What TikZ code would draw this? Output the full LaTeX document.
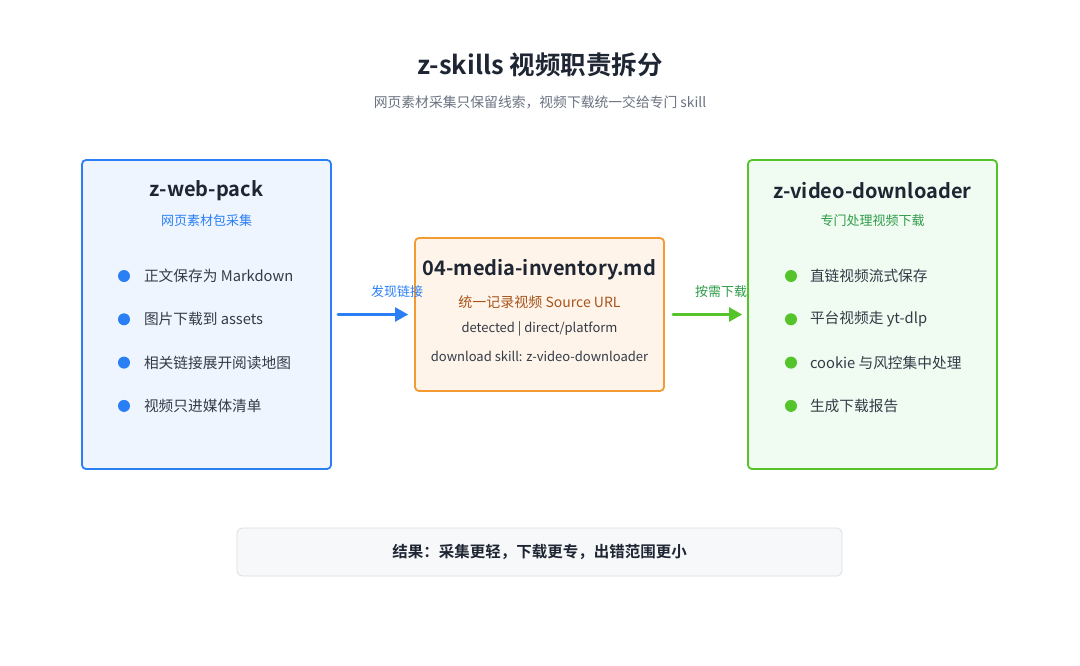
\documentclass[tikz,border=0pt]{standalone}
\usepackage{fontspec}
\setmainfont{Noto Sans CJK SC}[BoldFont={Noto Sans CJK SC Bold}]
\usetikzlibrary{arrows.meta,positioning}

\definecolor{inkdark}{HTML}{1F2633}
\definecolor{inkbody}{HTML}{333B47}
\definecolor{inkgray}{HTML}{6B7280}
\definecolor{webblue}{HTML}{2A7FF5}
\definecolor{webfill}{HTML}{EEF5FF}
\definecolor{dlgreen}{HTML}{55C42A}
\definecolor{dltext}{HTML}{2E9C48}
\definecolor{dlfill}{HTML}{F0FCF1}
\definecolor{invorange}{HTML}{F39A32}
\definecolor{invfill}{HTML}{FFF4EA}
\definecolor{invbrown}{HTML}{A8541A}
\definecolor{notefill}{HTML}{F7F8FA}
\definecolor{noteline}{HTML}{DADFE5}

\begin{document}
\begin{tikzpicture}[x=1pt, y=-1pt, line join=round, line cap=round,
	skillbox/.style={draw, line width=1.8pt, rounded corners=4pt, minimum width=249pt},
	boxtitle/.style={font=\fontsize{20}{24}\selectfont\bfseries, text=inkdark},
	itemtext/.style={anchor=west, font=\fontsize{14.7}{18}\selectfont, text=inkbody},
	flow/.style={line width=2.4pt, -{Triangle[length=13pt,width=14pt]}},
	flowlabel/.style={font=\fontsize{13}{16}\selectfont}]
	\useasboundingbox (0,0) rectangle (1080,665);
	\fill[white] (0,0) rectangle (1080,665);

	% heading
	\node[font=\fontsize{25.5}{30}\selectfont\bfseries, text=inkdark] (title) at (540,65) {z-skills 视频职责拆分};
	\node[font=\fontsize{13.8}{16}\selectfont, text=inkgray] (subtitle) at (540,102) {网页素材采集只保留线索，视频下载统一交给专门 skill};

	% the three boxes
	\node[skillbox, draw=webblue, fill=webfill, minimum height=309pt] (web) at (206.5,314.5) {};
	\node[skillbox, draw=invorange, fill=invfill, minimum height=153pt] (inv) at (539.5,314.5) {};
	\node[skillbox, draw=dlgreen, fill=dlfill, minimum height=309pt] (dl) at (872.5,314.5) {};

	% z-web-pack
	\node[boxtitle] (webtitle) at (206.5,191) {z-web-pack};
	\node[flowlabel, text=webblue] (websub) at (206.5,221) {网页素材包采集};
	\foreach \txt [count=\i] in {正文保存为 Markdown, 图片下载到 assets, 相关链接展开阅读地图, 视频只进媒体清单} {
		\fill[webblue] (124,{276+43.3*(\i-1)}) circle (6);
		\node[itemtext] (webitem\i) at (140.5,{276+43.3*(\i-1)}) {\txt};
	}

	% media inventory
	\node[boxtitle] (invtitle) at (539.5,270) {04-media-inventory.md};
	\node[font=\fontsize{14}{17}\selectfont, text=invbrown] (invsrc) at (539.5,302) {统一记录视频 Source URL};
	\node[font=\fontsize{13}{16}\selectfont, text=inkbody] (invmode) at (539.5,329) {detected | direct/platform};
	\node[font=\fontsize{13}{16}\selectfont, text=inkbody] (invskill) at (539.5,356) {download skill: z-video-downloader};

	% z-video-downloader
	\node[boxtitle] (dltitle) at (872.5,191) {z-video-downloader};
	\node[flowlabel, text=dltext] (dlsub) at (872.5,221) {专门处理视频下载};
	\foreach \txt [count=\i] in {直链视频流式保存, 平台视频走 yt-dlp, cookie 与风控集中处理, 生成下载报告} {
		\fill[dlgreen] (791,{276+43.3*(\i-1)}) circle (6);
		\node[itemtext] (dlitem\i) at (806.5,{276+43.3*(\i-1)}) {\txt};
	}

	% arrows between the boxes
	\draw[flow, webblue, shorten <=6pt, shorten >=6pt] (web.east) -- (inv.west);
	\node[flowlabel, text=webblue] (findlabel) at (397,292) {发现链接};
	\draw[flow, dlgreen, shorten <=8pt, shorten >=5pt] (inv.east) -- (dl.west);
	\node[flowlabel, text=dltext] (fetchlabel) at (721,292) {按需下载};

	% result
	\node[draw=noteline, fill=notefill, line width=0.8pt, rounded corners=5pt, minimum width=605pt, minimum height=48pt,
		font=\fontsize{15.5}{18}\selectfont\bfseries, text=inkdark] (result) at (539.5,552) {结果：采集更轻，下载更专，出错范围更小};
\end{tikzpicture}
\end{document}
